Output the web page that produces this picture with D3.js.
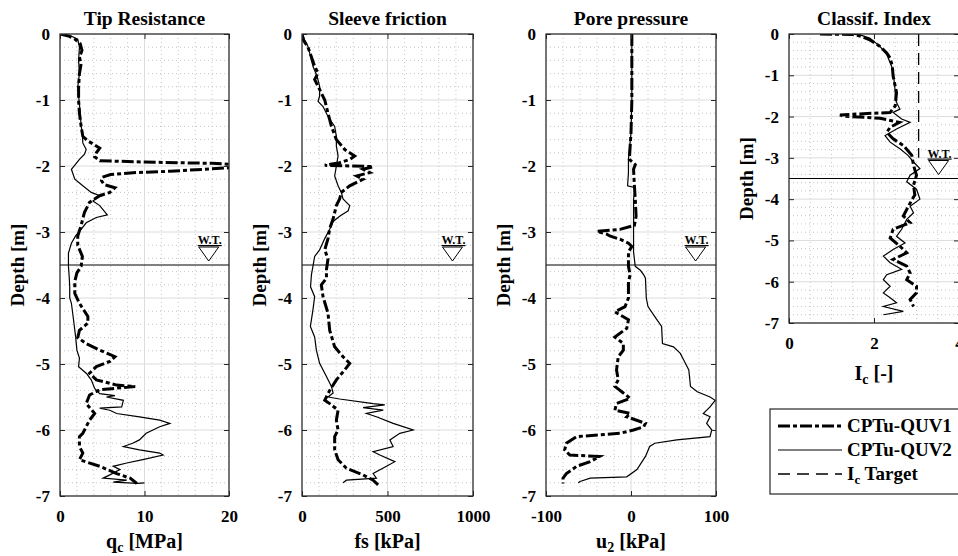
<!DOCTYPE html>
<html>
<head>
<meta charset="utf-8">
<script src="https://cdn.jsdelivr.net/npm/d3@7"></script>
<style>
  body { margin: 0; background: #fff; }
  text { font-family: "Liberation Serif", "Times New Roman", serif; font-weight: bold; fill: #000; }
</style>
</head>
<body>
<svg id="chart" width="958" height="556"></svg>
<script>
// depth [m] (positive down), value
var qc1 = [[0,0],[0.03,1.0],[0.08,1.8],[0.15,2.4],[0.25,2.6],[0.35,2.3],[0.45,2.5],[0.6,2.3],[0.8,2.2],[1.0,2.2],[1.2,2.3],[1.4,2.5],[1.55,2.7],[1.62,3.3],[1.68,4.1],[1.73,4.7],[1.8,4.3],[1.86,4.1],[1.92,4.7],[1.94,10],[1.96,18],[1.98,21],[2.02,21],[2.05,17],[2.08,13],[2.1,9],[2.13,6],[2.17,5.0],[2.22,4.9],[2.28,5.2],[2.33,6.5],[2.4,5.9],[2.45,4.7],[2.55,3.5],[2.7,2.9],[2.9,2.5],[3.06,2.1],[3.2,2.1],[3.37,2.65],[3.52,2.5],[3.62,2.0],[3.75,1.75],[3.93,1.75],[4.08,2.3],[4.28,3.3],[4.38,3.3],[4.49,2.3],[4.6,2.1],[4.69,3.1],[4.79,4.7],[4.89,6.5],[4.96,5.9],[5.04,4.3],[5.14,3.5],[5.24,4.3],[5.32,6.7],[5.34,8.9],[5.39,4.7],[5.47,3.5],[5.6,3.1],[5.75,4.1],[5.85,3.5],[5.95,3.1],[6.05,2.7],[6.1,2.3],[6.25,2.3],[6.35,2.7],[6.45,2.3],[6.55,4.7],[6.66,6.7],[6.73,8.3],[6.81,9.1]]
var qc2 = [[0,0],[0.03,1.3],[0.08,2.1],[0.2,2.3],[0.4,2.2],[0.6,2.3],[0.8,2.1],[1.0,2.25],[1.2,2.4],[1.4,2.5],[1.5,2.65],[1.65,2.7],[1.75,3.1],[1.82,2.9],[1.9,2.3],[2.05,1.35],[2.2,1.75],[2.3,2.7],[2.4,3.7],[2.45,4.7],[2.53,3.9],[2.6,4.7],[2.74,5.6],[2.78,4.3],[2.86,3.1],[2.96,2.5],[3.06,1.85],[3.17,1.35],[3.32,1.0],[3.52,1.0],[3.7,1.1],[3.83,1.15],[4.0,1.15],[4.08,1.35],[4.33,1.6],[4.59,1.85],[4.79,2.0],[4.91,2.3],[5.04,2.2],[5.14,3.1],[5.24,3.7],[5.37,4.1],[5.45,4.7],[5.48,6.5],[5.5,5.5],[5.55,7.5],[5.65,7.3],[5.67,4.7],[5.7,5.9],[5.75,6.7],[5.8,9.4],[5.85,11.8],[5.9,13.0],[5.95,11.8],[6.05,10.2],[6.15,9.4],[6.2,8.6],[6.25,7.5],[6.3,9.4],[6.35,11.8],[6.38,12.2],[6.45,9.8],[6.5,7.9],[6.55,6.3],[6.6,7.1],[6.68,5.9],[6.73,5.1],[6.76,7.9],[6.79,6.3],[6.81,9.2],[6.8,10]]
var fs1 = [[0,0],[0.1,10],[0.2,35],[0.49,74],[0.59,94],[0.69,74],[0.84,103],[1.0,133],[1.2,152],[1.4,172],[1.6,201],[1.75,250],[1.85,308],[1.9,280],[1.95,220],[1.99,133],[2.0,300],[2.01,416],[2.05,357],[2.1,396],[2.15,320],[2.2,357],[2.3,279],[2.4,230],[2.5,220],[2.6,201],[2.8,182],[2.95,162],[3.1,152],[3.27,133],[3.41,152],[3.57,143],[3.7,143],[3.8,113],[3.98,123],[4.23,152],[4.49,162],[4.74,191],[4.89,240],[4.99,279],[5.09,250],[5.24,201],[5.4,162],[5.55,133],[5.6,162],[5.7,211],[5.85,201],[6.0,211],[6.1,191],[6.3,191],[6.45,211],[6.58,260],[6.68,357],[6.76,416],[6.83,445]]
var fs2 = [[0,0],[0.09,16],[0.19,35],[0.34,50],[0.49,64],[0.64,88],[0.79,103],[0.94,103],[1.02,94],[1.1,123],[1.25,152],[1.4,191],[1.55,201],[1.7,201],[1.85,211],[2.0,201],[2.15,191],[2.3,211],[2.4,230],[2.5,240],[2.6,279],[2.68,270],[2.76,220],[2.84,182],[2.96,162],[3.1,133],[3.27,103],[3.37,74],[3.52,64],[3.65,55],[3.83,50],[3.98,74],[4.18,64],[4.43,49],[4.59,74],[4.79,84],[4.99,103],[5.19,143],[5.34,172],[5.44,182],[5.5,152],[5.53,220],[5.6,416],[5.62,484],[5.66,357],[5.7,475],[5.75,377],[5.8,435],[5.9,533],[6.0,650],[6.05,572],[6.15,514],[6.25,533],[6.33,416],[6.38,455],[6.48,543],[6.55,494],[6.66,416],[6.73,435],[6.76,260],[6.8,240]]
var u1 = [[0,1],[0.5,1],[1.0,1],[1.5,0],[1.9,-2],[1.98,5],[2.05,3],[2.3,4],[2.5,5],[2.76,6],[2.9,4],[2.96,-13],[2.99,-40],[3.03,-29],[3.06,-25],[3.11,-13],[3.17,-3],[3.22,1],[3.3,-3],[3.52,-3],[3.65,-1],[3.75,-3],[4.0,-3],[4.13,-7],[4.21,-19],[4.33,-3],[4.46,-5],[4.59,-19],[4.69,-9],[4.79,-9],[4.89,-15],[5.09,-17],[5.24,-15],[5.34,-19],[5.44,-9],[5.52,-1],[5.6,-17],[5.7,-19],[5.75,-1],[5.8,-5],[5.9,17],[5.95,15],[6.0,3],[6.05,-13],[6.1,-64],[6.2,-76],[6.3,-78],[6.38,-72],[6.4,-37],[6.48,-48],[6.55,-64],[6.66,-76],[6.73,-80],[6.81,-80]]
var u2 = [[0,1],[0.5,1],[1.0,1],[1.5,0],[1.9,-3],[2.1,-3],[2.3,-4],[2.33,5],[2.5,3],[3.0,3],[3.3,3],[3.52,5],[3.58,11],[3.65,15],[3.7,17],[4.0,18],[4.13,20],[4.3,29],[4.43,36],[4.69,37],[4.74,50],[4.84,58],[4.94,62],[5.09,68],[5.34,70],[5.42,78],[5.5,93],[5.55,99],[5.65,93],[5.75,85],[5.8,93],[5.9,89],[6.0,95],[6.1,93],[6.15,54],[6.2,28],[6.25,22],[6.4,17],[6.6,7],[6.71,-5],[6.73,-48],[6.78,-60],[6.8,-62]]
var ic1 = [[0,0.73],[0.01,1.5],[0.05,1.67],[0.14,1.9],[0.3,2.14],[0.46,2.3],[0.58,2.38],[0.78,2.43],[1.02,2.45],[1.42,2.53],[1.74,2.5],[1.9,2.38],[1.96,1.2],[1.99,1.28],[2.04,2.14],[2.14,2.6],[2.26,2.38],[2.38,2.3],[2.54,2.45],[2.7,2.69],[2.94,2.89],[3.18,2.93],[3.42,3.0],[3.66,2.93],[3.9,2.96],[4.0,2.9],[4.25,2.77],[4.41,2.69],[4.57,2.85],[4.73,2.45],[4.94,2.38],[5.14,2.61],[5.3,2.77],[5.46,2.45],[5.62,2.77],[5.79,2.85],[5.95,2.77],[6.11,3.0],[6.27,3.0],[6.43,2.85],[6.6,2.93]]
var ic2 = [[0,1.4],[0.02,1.67],[0.1,1.9],[0.3,2.14],[0.5,2.3],[0.8,2.42],[1.1,2.47],[1.4,2.5],[1.58,2.5],[1.7,2.55],[1.82,2.61],[1.9,2.45],[2.06,2.65],[2.14,2.85],[2.3,2.53],[2.46,2.26],[2.62,2.38],[2.78,2.61],[2.94,2.8],[3.1,2.93],[3.26,3.08],[3.42,2.85],[3.58,2.77],[3.76,3.0],[4.0,3.08],[4.17,2.85],[4.33,2.93],[4.49,2.77],[4.73,2.65],[4.9,2.53],[5.06,2.73],[5.22,2.45],[5.38,2.22],[5.54,2.38],[5.7,2.65],[5.83,2.3],[5.95,2.22],[6.11,2.38],[6.27,2.22],[6.39,2.38],[6.51,2.53],[6.6,2.22],[6.72,2.69],[6.8,2.22]]

var icTarget = 3.05
var icTargetDepth = [0, -3]
var waterTable = -3.5
var depthTicks = [0, -1, -2, -3, -4, -5, -6, -7]
var qcTicks = [0, 10, 20]
var fsTicks = [0, 500, 1000]
var uTicks = [-100, 0, 100]
var icTicks = [0, 2, 4]
var titles = ["Tip Resistance", "Sleeve friction", "Pore pressure", "Classif. Index"]
var seriesNames = ["CPTu-QUV1", "CPTu-QUV2"]

var serif = '"Liberation Serif", "Times New Roman", serif'

var panels = [
  { title: titles[0], left: 60, right: 229, top: 34, bottom: 496, lab: 52, ticks: qcTicks, minor: 2, s1: qc1, s2: qc2, label: ["q", "c", " [MPa]"] },
  { title: titles[1], left: 302, right: 473, top: 34, bottom: 496, lab: 52, ticks: fsTicks, minor: 100, s1: fs1, s2: fs2, label: ["fs [kPa]", "", ""] },
  { title: titles[2], left: 546, right: 716, top: 34, bottom: 496, lab: 52, ticks: uTicks, minor: 20, s1: u1, s2: u2, label: ["u", "2", " [kPa]"] },
  { title: titles[3], left: 789, right: 959, top: 34, bottom: 323, lab: 57, ticks: icTicks, minor: 0.5, s1: ic1, s2: ic2, label: ["I", "c", " [-]"], target: true }
]

var svg = d3.select("#chart")
var defs = svg.append("defs")

function addSub(t, parts, size) {
  t.append("tspan").text(parts[0])
  if (parts[1]) {
    t.append("tspan").attr("dy", 4).style("font-size", size + "px").text(parts[1])
    t.append("tspan").attr("dy", -4).text(parts[2])
  }
}

panels.forEach(function (p, i) {
  var dom = [p.ticks[0], p.ticks[p.ticks.length - 1]]
  var x = d3.scaleLinear().domain(dom).range([p.left, p.right])
  var y = d3.scaleLinear().domain([-7, 0]).range([p.bottom, p.top])
  var w = p.right - p.left, h = p.bottom - p.top
  var g = svg.append("g")

  defs.append("clipPath").attr("id", "clip" + i)
    .append("rect").attr("x", p.left).attr("y", p.top).attr("width", w).attr("height", h)

  // minor grid
  var minorX = d3.range(dom[0], dom[1] + 1e-9, p.minor).filter(function (v) { return p.ticks.indexOf(v) < 0 })
  var minorY = d3.range(0, -7 - 1e-9, -0.2).filter(function (v) { return Math.abs(v - Math.round(v)) > 1e-6 })
  g.selectAll(".mx").data(minorX).enter().append("line")
    .attr("x1", x).attr("x2", x).attr("y1", p.top).attr("y2", p.bottom)
    .attr("stroke", "#b8b8b8").attr("stroke-width", 0.8).attr("stroke-dasharray", "1,3")
  g.selectAll(".my").data(minorY).enter().append("line")
    .attr("y1", y).attr("y2", y).attr("x1", p.left).attr("x2", p.right)
    .attr("stroke", "#b8b8b8").attr("stroke-width", 0.8).attr("stroke-dasharray", "1,3")
  // major grid
  g.selectAll(".gx").data(p.ticks).enter().append("line")
    .attr("x1", x).attr("x2", x).attr("y1", p.top).attr("y2", p.bottom)
    .attr("stroke", "#dcdcdc").attr("stroke-width", 1)
  g.selectAll(".gy").data(depthTicks).enter().append("line")
    .attr("y1", y).attr("y2", y).attr("x1", p.left).attr("x2", p.right)
    .attr("stroke", "#dcdcdc").attr("stroke-width", 1)

  var line = d3.line().x(function (d) { return x(d[1]) }).y(function (d) { return y(-d[0]) })
  var plot = g.append("g").attr("clip-path", "url(#clip" + i + ")")

  // water table
  plot.append("line").attr("x1", p.left).attr("x2", p.right)
    .attr("y1", y(waterTable)).attr("y2", y(waterTable))
    .attr("stroke", "#000").attr("stroke-width", 1)

  if (p.target) {
    plot.append("line").attr("x1", x(icTarget)).attr("x2", x(icTarget))
      .attr("y1", y(icTargetDepth[0])).attr("y2", y(icTargetDepth[1]))
      .attr("stroke", "#000").attr("stroke-width", 1.3).attr("stroke-dasharray", "12,7")
  }

  plot.append("path").datum(p.s2).attr("d", line)
    .attr("fill", "none").attr("stroke", "#000").attr("stroke-width", 1.2)
  plot.append("path").datum(p.s1).attr("d", line)
    .attr("fill", "none").attr("stroke", "#000").attr("stroke-width", 3)
    .attr("stroke-dasharray", "12,3,4,3")

  // W.T. marker
  var mx = p.left + 0.88 * w, wy = y(waterTable)
  g.append("text").attr("x", mx + 1).attr("y", wy - 21).attr("text-anchor", "middle")
    .style("font-size", "12px").style("text-decoration", "underline").text("W.T.")
  g.append("path")
    .attr("d", "M" + (mx - 10) + "," + (wy - 18) + "L" + (mx + 10) + "," + (wy - 18) + "L" + mx + "," + (wy - 4) + "Z")
    .attr("fill", "#fff").attr("stroke", "#000").attr("stroke-width", 1)

  // axes with inward ticks
  var fmt = function (d) { return String(d) }
  var axL = d3.axisLeft(y).tickValues(depthTicks).tickSize(-5).tickPadding(10).tickFormat(fmt)
  var axR = d3.axisRight(y).tickValues(depthTicks).tickSize(-5).tickFormat("")
  var axB = d3.axisBottom(x).tickValues(p.ticks).tickSize(-5).tickPadding(14).tickFormat(fmt)
  var axT = d3.axisTop(x).tickValues(p.ticks).tickSize(-5).tickFormat("")
  ;[
    [axL, "translate(" + p.left + ",0)"],
    [axR, "translate(" + p.right + ",0)"],
    [axB, "translate(0," + p.bottom + ")"],
    [axT, "translate(0," + p.top + ")"]
  ].forEach(function (a) {
    var ag = g.append("g").attr("transform", a[1]).call(a[0])
    ag.attr("font-family", serif).attr("font-size", 17).attr("font-weight", "bold")
    ag.select(".domain").remove()
    ag.selectAll("line").attr("stroke", "#262626")
    ag.selectAll("text")
      .style("font-family", serif).style("font-weight", "bold").style("font-size", "17px")
      .attr("fill", "#000")
  })
  g.append("rect").attr("x", p.left).attr("y", p.top).attr("width", w).attr("height", h)
    .attr("fill", "none").attr("stroke", "#262626").attr("stroke-width", 1.2)

  g.append("text").attr("x", (p.left + p.right) / 2).attr("y", 25).attr("text-anchor", "middle")
    .style("font-size", "19.5px").text(p.title)
  g.append("text").attr("transform", "translate(" + (p.left - 36) + "," + (p.top + h / 2) + ") rotate(-90)")
    .attr("text-anchor", "middle").style("font-size", "19px").text("Depth [m]")
  var xl = g.append("text").attr("x", (p.left + p.right) / 2).attr("y", p.bottom + p.lab)
    .attr("text-anchor", "middle").style("font-size", "20px")
  addSub(xl, p.label, 14)
})

// legend
var lg = svg.append("g")
lg.append("rect").attr("x", 770).attr("y", 409).attr("width", 200).attr("height", 85)
  .attr("fill", "#fff").attr("stroke", "#262626").attr("stroke-width", 1.2)
var legendRows = [
  { dash: "12,3,4,3", width: 3, label: [seriesNames[0], "", ""] },
  { dash: null, width: 1.2, label: [seriesNames[1], "", ""] },
  { dash: "12,7", width: 1.3, label: ["I", "c", " Target"] }
]
legendRows.forEach(function (r, i) {
  var yy = 426 + i * 24
  lg.append("line").attr("x1", 778).attr("x2", 842).attr("y1", yy).attr("y2", yy)
    .attr("stroke", "#000").attr("stroke-width", r.width).attr("stroke-dasharray", r.dash)
  var t = lg.append("text").attr("x", 847).attr("y", yy + 6).style("font-size", "19px")
  addSub(t, r.label, 13)
})
</script>
</body>
</html>
